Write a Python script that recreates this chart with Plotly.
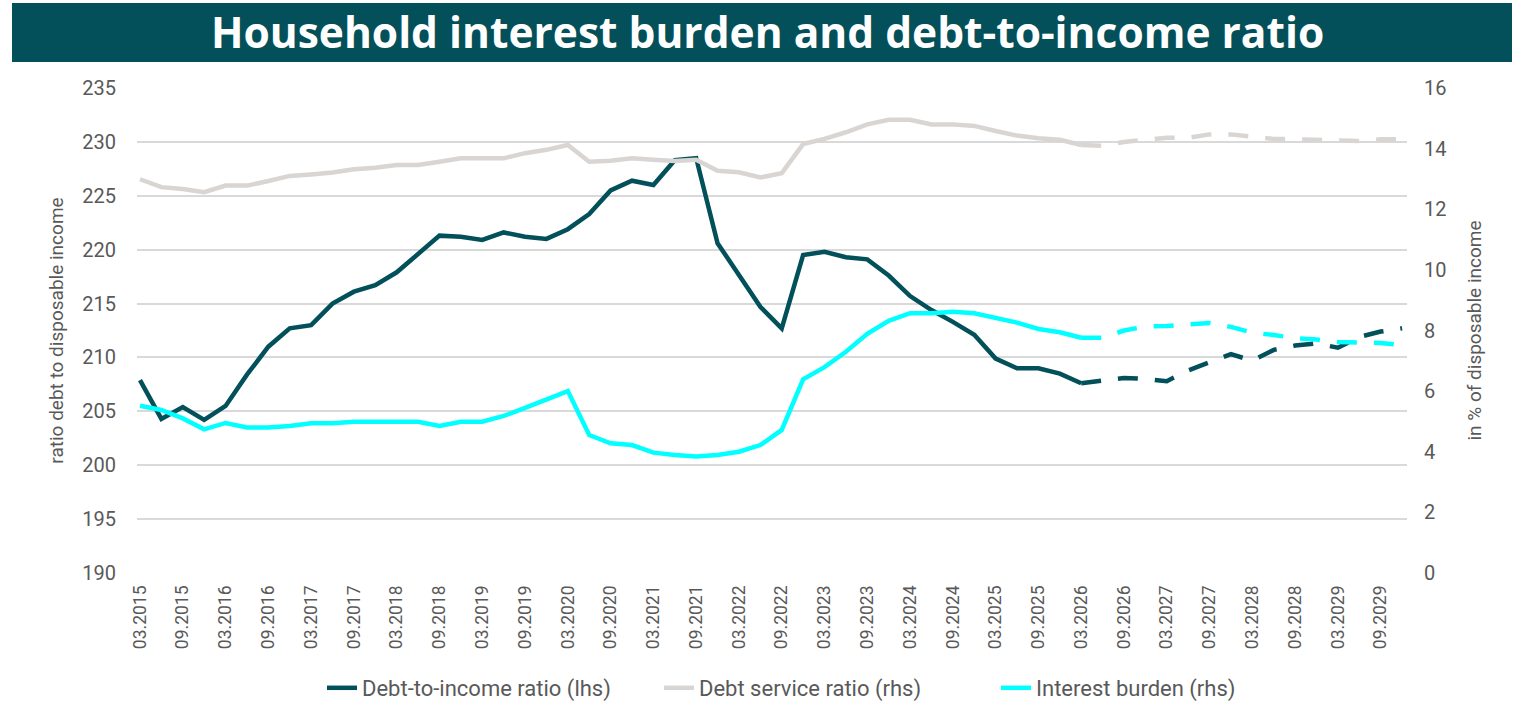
import plotly.graph_objects as go

# quarterly periods, 03.2015 .. 12.2029
years = list(range(2015, 2030))
months = ["03", "06", "09", "12"]
quarters = [f"{m}.{y}" for y in years for m in months]
tick_labels = [q for q in quarters if q[:2] in ("03", "09")]

# index of the last actual observation (forecast starts here)
last_actual = quarters.index("03.2026")

debt_to_income = [
    207.9, 204.3, 205.4, 204.2, 205.5, 208.4, 211.0, 212.7, 213.0, 215.0,
    216.1, 216.7, 217.9, 219.6, 221.3, 221.2, 220.9, 221.6, 221.2, 221.0,
    221.9, 223.3, 225.5, 226.4, 226.0, 228.3, 228.5, 220.6, 217.6, 214.7,
    212.7, 219.5, 219.8, 219.3, 219.1, 217.6, 215.7, 214.4, 213.3, 212.1,
    209.9, 209.0, 209.0, 208.5, 207.6, 207.9, 208.1, 208.0, 207.8, 208.8,
    209.6, 210.3, 209.7, 210.7, 211.1, 211.3, 210.9, 211.9, 212.4, 212.7,
]

debt_service = [
    12.99, 12.73, 12.67, 12.56, 12.78, 12.78, 12.93, 13.10, 13.15, 13.21,
    13.32, 13.37, 13.46, 13.46, 13.57, 13.68, 13.68, 13.68, 13.85, 13.96,
    14.12, 13.57, 13.60, 13.68, 13.63, 13.59, 13.63, 13.27, 13.22, 13.05,
    13.19, 14.15, 14.32, 14.54, 14.80, 14.95, 14.95, 14.80, 14.80, 14.75,
    14.58, 14.43, 14.34, 14.29, 14.12, 14.09, 14.22, 14.30, 14.36, 14.36,
    14.47, 14.47, 14.38, 14.32, 14.31, 14.30, 14.27, 14.25, 14.31, 14.31,
]

interest_burden = [
    5.52, 5.38, 5.10, 4.74, 4.95, 4.80, 4.80, 4.85, 4.94, 4.94,
    4.99, 4.99, 4.99, 4.99, 4.85, 4.99, 4.99, 5.18, 5.45, 5.71,
    6.00, 4.55, 4.28, 4.22, 3.97, 3.89, 3.84, 3.89, 4.00, 4.22,
    4.72, 6.39, 6.79, 7.30, 7.89, 8.32, 8.57, 8.57, 8.62, 8.57,
    8.40, 8.26, 8.05, 7.94, 7.76, 7.76, 8.00, 8.13, 8.15, 8.20,
    8.25, 8.12, 7.93, 7.85, 7.75, 7.70, 7.62, 7.60, 7.59, 7.52,
]

series = [
    ("Debt-to-income ratio (lhs)", debt_to_income, "#02505A", "y"),
    ("Debt service ratio (rhs)", debt_service, "#D9D5D2", "y2"),
    ("Interest burden (rhs)", interest_burden, "#00FFFF", "y2"),
]

FONT = "Roboto"
GREY = "#595959"

fig = go.Figure()

# grey first so the other lines sit on top
for name, values, color, axis in [series[1], series[0], series[2]]:
    n = last_actual + 1
    fig.add_trace(go.Scatter(
        x=quarters[:n], y=values[:n], yaxis=axis, name=name, mode="lines",
        line=dict(color=color, width=4.5), legendrank=[s[0] for s in series].index(name),
    ))
    fig.add_trace(go.Scatter(
        x=quarters[last_actual:], y=values[last_actual:], yaxis=axis, name=name,
        mode="lines", showlegend=False,
        line=dict(color=color, width=4.5, dash="20px,17px"),
    ))

# title bar
fig.add_shape(
    type="rect", xref="paper", yref="paper",
    x0=(12 - 137) / 1270, x1=(1512 - 137) / 1270,
    y0=(573 - 62) / 485, y1=(573 - 3) / 485,
    fillcolor="#03505A", line=dict(width=0), layer="below",
)

fig.update_layout(
    width=1520,
    height=706,
    plot_bgcolor="white",
    paper_bgcolor="white",
    margin=dict(l=137, r=113, t=88, b=133),
    title=dict(
        text="<b>Household interest burden and debt-to-income ratio</b>",
        x=0.505, xanchor="center", y=1 - 33 / 706, yanchor="middle",
        font=dict(family="Open Sans", size=42.5, color="white"),
    ),
    font=dict(family=FONT, color=GREY),
    xaxis=dict(
        type="category",
        categoryorder="array",
        categoryarray=quarters,
        range=[-0.14, 59.23],
        tickmode="array",
        tickvals=tick_labels,
        ticktext=tick_labels,
        tickangle=-90,
        tickfont=dict(size=17.5, color=GREY),
        ticklabelstandoff=8,
        showgrid=False,
        showline=False,
        zeroline=False,
        automargin=False,
    ),
    yaxis=dict(
        range=[190, 235],
        dtick=5,
        tickfont=dict(size=20, color=GREY),
        gridcolor="#D9D9D9",
        gridwidth=1.5,
        zeroline=False,
        ticklabelstandoff=20,
        automargin=False,
        title=dict(text="ratio debt to disposable income", font=dict(size=19, color=GREY), standoff=13),
    ),
    yaxis2=dict(
        range=[0, 16],
        dtick=2,
        overlaying="y",
        side="right",
        showgrid=False,
        zeroline=False,
        tickfont=dict(size=20, color=GREY),
        ticklabelstandoff=16,
        automargin=False,
        title=dict(text="in % of disposable income", font=dict(size=19, color=GREY), standoff=22),
    ),
    legend=dict(
        orientation="h",
        xref="container", x=322 / 1520, xanchor="left",
        yref="container", y=1 - 688 / 706, yanchor="middle",
        font=dict(size=22, color=GREY),
        entrywidth=292,
        traceorder="normal",
    ),
)

# the page body has a default 8px margin; drop it so the figure sits at 0,0
fig.write_html(
    "out.html",
    config={"displayModeBar": False},
    post_script="document.body.style.margin='0';",
)
